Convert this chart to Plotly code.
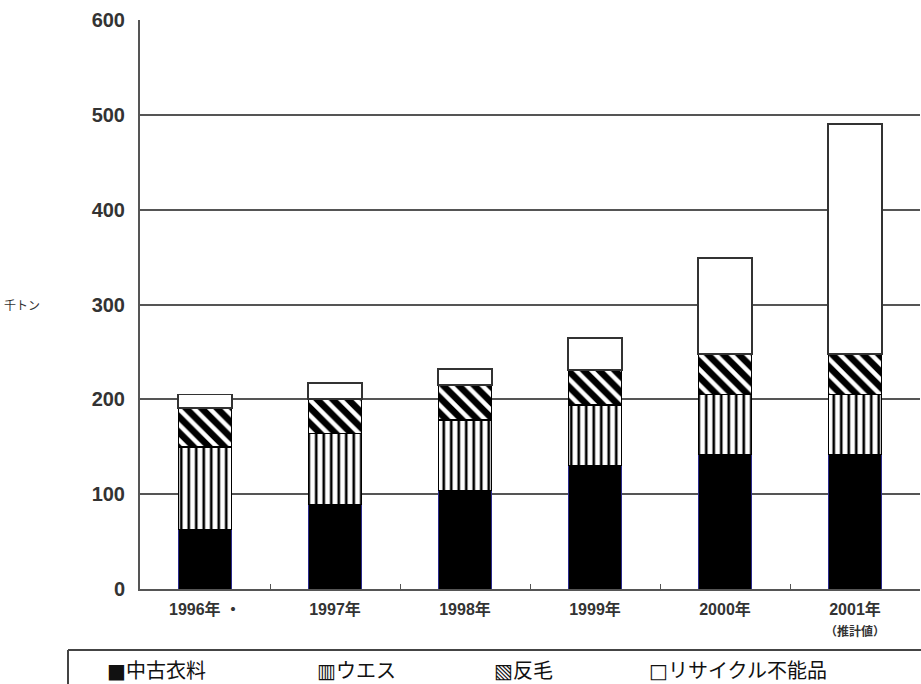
import plotly.graph_objects as go

# Used-clothing flows by year (thousand tonnes), stacked
years = ["1996年 ・", "1997年", "1998年", "1999年", "2000年",
         "2001年<br><span style='font-size:12px'>（推計値）</span>"]
used_clothing = [63, 89, 104, 130, 142, 142]      # 中古衣料
wiping_rags = [87, 75, 74, 64, 63, 63]            # ウエス
reclaimed_fiber = [41, 36, 37, 37, 43, 43]        # 反毛
non_recyclable = [14, 17, 17, 34, 101, 242]       # リサイクル不能品
y_ticks = [0, 100, 200, 300, 400, 500, 600]

FONT = "Liberation Sans, Arial, Noto Sans CJK JP, sans-serif"
CJK = "Noto Sans CJK JP, sans-serif"
TXT = "#333333"

fig = go.Figure()
fig.add_bar(x=years, y=used_clothing, name="中古衣料",
            marker=dict(color="black", line=dict(color="#2a2a8c", width=1)))
fig.add_bar(x=years, y=wiping_rags, name="ウエス",
            marker=dict(color="white", line=dict(color="black", width=1.5),
                        pattern=dict(shape="|", size=7.5, solidity=0.35,
                                     fgcolor="black", fgopacity=1,
                                     bgcolor="white")))
fig.add_bar(x=years, y=reclaimed_fiber, name="反毛",
            marker=dict(color="white", line=dict(color="black", width=1.5),
                        pattern=dict(shape="\\", size=11, solidity=0.6,
                                     fgcolor="black", fgopacity=1,
                                     bgcolor="white")))
fig.add_bar(x=years, y=non_recyclable, name="リサイクル不能品",
            marker=dict(color="white", line=dict(color="#333333", width=1.8)))

fig.update_layout(
    width=921, height=684,
    barmode="stack", bargap=0.59,
    showlegend=False,
    plot_bgcolor="white", paper_bgcolor="white",
    margin=dict(l=140, r=1, t=20, b=95),
    font=dict(family=FONT, color=TXT),
)
fig.update_yaxes(
    range=[0, 600], tickvals=y_ticks,
    showgrid=True, gridcolor="#555555", gridwidth=1.5,
    showline=True, linecolor="#555555", linewidth=2,
    zeroline=False, ticks="", ticklabelstandoff=9,
    tickfont=dict(size=20, family=FONT, color=TXT, weight="bold"),
)
fig.update_xaxes(
    showline=True, linecolor="#555555", linewidth=2,
    ticks="inside", tickson="boundaries", ticklen=5, tickcolor="#555555",
    tickfont=dict(size=16, family=FONT, color=TXT, weight="bold"),
    ticklabelstandoff=5,
)

# unit label beside the 300 tick
fig.add_annotation(xref="paper", yref="y", x=-0.151, y=300, xanchor="center",
                   text="千トン", showarrow=False,
                   font=dict(size=12, family=CJK, color=TXT))

# legend frame below the chart
def px_x(p):
    return (p - 140) / 780

def px_y(p):
    return (589 - p) / 569

fig.add_shape(type="line", xref="paper", yref="paper",
              x0=px_x(68), x1=1.02, y0=px_y(650), y1=px_y(650),
              line=dict(color="#444444", width=2))
fig.add_shape(type="line", xref="paper", yref="paper",
              x0=px_x(68), x1=px_x(68), y0=px_y(650), y1=px_y(700),
              line=dict(color="#444444", width=2))

legend_items = [
    (105, "■", "中古衣料"),
    (315, "▥", "ウエス"),
    (492, "▧", "反毛"),
    (647, "□", "リサイクル不能品"),
]
for xpos, glyph, label in legend_items:
    fig.add_annotation(
        xref="paper", yref="paper", x=px_x(xpos), y=px_y(669),
        xanchor="left", yanchor="middle", showarrow=False,
        text=f"<span style='font-family:DejaVu Sans'>{glyph}</span>{label}",
        font=dict(size=20, family=CJK, color="#111111"),
    )

fig.write_html("out.html")
